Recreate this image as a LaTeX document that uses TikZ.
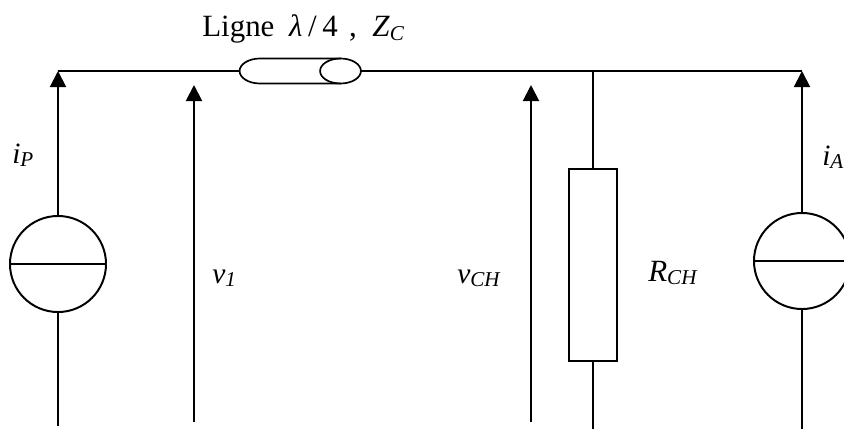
\documentclass[tikz,border=0pt]{standalone}
\usepackage{fontspec}
\setmainfont{Liberation Serif}
\usetikzlibrary{arrows.meta, shapes.geometric}

\newcommand{\siglabel}[2]{\textit{#1}\raisebox{-2.5pt}{\fontsize{15}{15}\selectfont\textit{#2}}}

\begin{document}
\begin{tikzpicture}[
    x=0.025cm, y=-0.025cm,
    wire/.style={line width=1.4pt},
    arrow/.style={-{Triangle[length=0.4cm, width=0.4cm]}, line width=1.4pt},
    source/.style={circle, draw=black, line width=1.4pt, minimum size=2.4cm, inner sep=0pt},
    lineend/.style={ellipse, minimum width=1.02cm, minimum height=0.625cm, inner sep=0pt, outer sep=0pt, line width=1.2pt},
    label/.style={font=\fontsize{21}{21}\selectfont, inner sep=0pt, anchor=base west}
]
    \useasboundingbox (0, 0) rectangle (844, 429);

    % Sources
    \node[source] (srcP) at (58, 264) {};
    \node[source] (srcA) at (802, 261) {};
    \draw[wire] (srcP.west) -- (srcP.east);
    \draw[wire] (srcA.west) -- (srcA.east);

    % Load
    \node[rectangle, draw=black, line width=1.4pt, minimum width=1.2cm, minimum height=4.8cm, inner sep=0pt] (RCH) at (593, 265) {};

    % Line
    \node[lineend] (lineStart) at (260, 71) {};
    \node[lineend, draw=black] (lineEnd) at (340.5, 71) {};
    \draw[line width=1.2pt] (lineEnd.north) -- (lineStart.north)
        arc[start angle=90, end angle=270, x radius=0.51cm, y radius=0.3125cm] -- (lineEnd.south);

    % Top and bottom points
    \coordinate (topP) at (58, 71);
    \coordinate (topR) at (593, 71);
    \coordinate (topA) at (802, 71);
    \coordinate (botP) at (58, 426);
    \coordinate (botR) at (593, 429);
    \coordinate (botA) at (802, 429);
    \coordinate (v1top) at (194, 85);
    \coordinate (v1bot) at (194, 422);
    \coordinate (vCHtop) at (531, 85);
    \coordinate (vCHbot) at (531, 422);

    % Wires
    \draw[wire] (topP) -- (lineStart.west);
    \draw[wire] (lineEnd.east) -- (topA);
    \draw[wire] (topR) -- (RCH.north);
    \draw[wire] (RCH.south) -- (botR);
    \draw[wire] (srcP.south) -- (botP);
    \draw[wire] (srcA.south) -- (botA);

    % Arrows
    \draw[arrow] (srcP.north) -- (topP);
    \draw[arrow] (srcA.north) -- (topA);
    \draw[arrow] (v1bot) -- (v1top);
    \draw[arrow] (vCHbot) -- (vCHtop);

    % Labels
    \node[label, font=\fontsize{22}{22}\selectfont] (title) at (202, 36) {Ligne\hspace{10.5pt}\textit{λ}\hspace{4pt}/\hspace{4pt}4\hspace{8pt},\hspace{11pt}\textit{Z}\raisebox{-3pt}{\fontsize{15}{15}\selectfont\textit{C}}};
    \node[label] (iP) at (12, 163) {\siglabel{i}{P}};
    \node[label] (iA) at (822, 165) {\siglabel{i}{A}};
    \node[label] (v1) at (212, 283) {\siglabel{v}{1}};
    \node[label] (vCH) at (457, 283) {\siglabel{v}{CH}};
    \node[label, font=\fontsize{22}{22}\selectfont] (Rlabel) at (648, 281) {\siglabel{R}{CH}};

\end{tikzpicture}
\end{document}
